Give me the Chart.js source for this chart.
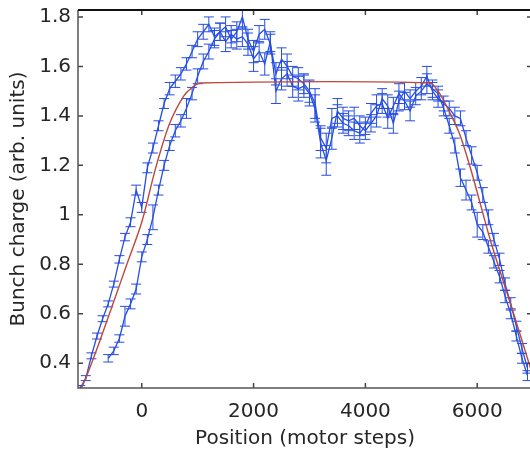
<!DOCTYPE html>
<html>
<head>
  <title>Bunch charge vs position</title>
  <style>
    html, body { margin: 0; padding: 0; overflow: hidden; background: #fff; }
    #wrap { width: 534px; height: 449px; }
  </style>
</head>
<body>
  <div id="wrap"><canvas id="canvas"></canvas></div>
  <script src="https://cdn.jsdelivr.net/npm/chart.js"></script>
  <script>
    // axis ticks
    var xTicks = [0, 2000, 4000, 6000];
    var xTickLabels = ['0', '2000', '4000', '6000'];
    var yTicks = [0.4, 0.6, 0.8, 1.0, 1.2, 1.4, 1.6, 1.8];
    var yTickLabels = ['0.4', '0.6', '0.8', '1', '1.2', '1.4', '1.6', '1.8'];

    // first scan (motor steps, charge, error)
    var scanAX = [-1100, -1000, -900, -800, -700, -600, -500, -400, -300, -200, -100, 0, 100, 200, 300, 400, 500, 600, 700, 800, 900,
      1000, 1100, 1200, 1300, 1400, 1500, 1600, 1700, 1800, 1900, 2000, 2100, 2200, 2300, 2400, 2500, 2600, 2700, 2800, 2900,
      3000, 3100, 3200, 3300, 3400, 3500, 3600, 3700, 3800, 3900, 4000, 4100, 4200, 4300, 4400, 4500, 4600, 4700, 4800, 4900,
      5000, 5100, 5200, 5300, 5400, 5500, 5600, 5700, 5800, 5900, 6000, 6100, 6200, 6300, 6400, 6500, 6600, 6700, 6800, 6900];
    var scanAY = [0.30, 0.34, 0.43, 0.51, 0.58, 0.64, 0.72, 0.82, 0.91, 0.97, 1.10, 1.03, 1.19, 1.27, 1.36, 1.45, 1.51, 1.54, 1.57, 1.61, 1.66,
      1.71, 1.74, 1.77, 1.72, 1.74, 1.76, 1.71, 1.74, 1.80, 1.71, 1.66, 1.73, 1.75, 1.69, 1.57, 1.63, 1.60, 1.56, 1.55, 1.53,
      1.50, 1.45, 1.31, 1.27, 1.39, 1.40, 1.37, 1.36, 1.34, 1.33, 1.36, 1.41, 1.44, 1.45, 1.39, 1.44, 1.49, 1.46, 1.42, 1.48,
      1.50, 1.53, 1.51, 1.49, 1.43, 1.36, 1.28, 1.15, 1.10, 1.05, 0.96, 0.93, 0.87, 0.81, 0.75, 0.67, 0.60, 0.51, 0.42, 0.35];
    var scanAErr = [0.010, 0.010, 0.012, 0.012, 0.012, 0.012, 0.012, 0.015, 0.015, 0.018, 0.02, 0.02, 0.02, 0.02, 0.02, 0.02, 0.025, 0.025, 0.025, 0.025, 0.025,
      0.03, 0.03, 0.03, 0.035, 0.035, 0.04, 0.035, 0.04, 0.045, 0.04, 0.045, 0.035, 0.04, 0.04, 0.045, 0.045, 0.05, 0.04, 0.045, 0.04,
      0.045, 0.06, 0.05, 0.06, 0.04, 0.045, 0.04, 0.04, 0.035, 0.04, 0.035, 0.04, 0.045, 0.04, 0.04, 0.035, 0.04, 0.035, 0.04, 0.035,
      0.035, 0.04, 0.035, 0.03, 0.03, 0.03, 0.03, 0.035, 0.04, 0.03, 0.05, 0.03, 0.025, 0.025, 0.025, 0.025, 0.02, 0.02, 0.02, 0.02];

    // second scan
    var scanBX = [-600, -500, -400, -300, -200, -100, 0, 100, 200, 300, 400, 500, 600, 700, 800, 900,
      1000, 1100, 1200, 1300, 1400, 1500, 1600, 1700, 1800, 1900, 2000, 2100, 2200, 2300, 2400, 2500, 2600, 2700, 2800, 2900,
      3000, 3100, 3200, 3300, 3400, 3500, 3600, 3700, 3800, 3900, 4000, 4100, 4200, 4300, 4400, 4500, 4600, 4700, 4800, 4900,
      5000, 5100, 5200, 5300, 5400, 5500, 5600, 5700, 5800, 5900, 6000, 6100, 6200, 6300, 6400, 6500, 6600, 6700, 6800, 6900];
    var scanBY = [0.42, 0.45, 0.50, 0.59, 0.64, 0.70, 0.83, 0.90, 0.99, 1.10, 1.20, 1.28, 1.34, 1.38, 1.43, 1.49,
      1.56, 1.62, 1.66, 1.71, 1.74, 1.70, 1.73, 1.71, 1.72, 1.69, 1.63, 1.66, 1.61, 1.70, 1.50, 1.55, 1.57, 1.52, 1.51, 1.52,
      1.49, 1.43, 1.29, 1.22, 1.31, 1.42, 1.39, 1.38, 1.39, 1.36, 1.34, 1.37, 1.40, 1.47, 1.44, 1.37, 1.46, 1.50, 1.47, 1.50,
      1.52, 1.56, 1.50, 1.47, 1.45, 1.43, 1.40, 1.39, 1.31, 1.24, 1.17, 1.08, 0.99, 0.90, 0.82, 0.72, 0.64, 0.55, 0.46, 0.38];
    var scanBErr = [0.015, 0.015, 0.015, 0.04, 0.02, 0.02, 0.02, 0.02, 0.05, 0.02, 0.02, 0.02, 0.025, 0.025, 0.04, 0.025,
      0.03, 0.03, 0.03, 0.035, 0.035, 0.04, 0.035, 0.04, 0.04, 0.045, 0.05, 0.04, 0.045, 0.04, 0.05, 0.045, 0.05, 0.045, 0.05, 0.045,
      0.05, 0.055, 0.06, 0.06, 0.045, 0.05, 0.045, 0.04, 0.045, 0.04, 0.035, 0.035, 0.045, 0.04, 0.045, 0.04, 0.04, 0.035, 0.035, 0.035,
      0.035, 0.04, 0.035, 0.035, 0.03, 0.03, 0.035, 0.03, 0.03, 0.035, 0.03, 0.03, 0.03, 0.025, 0.025, 0.025, 0.025, 0.02, 0.02, 0.02];

    // fitted profile
    var fitX = [-1140, -1000, -750, -500, -250, 0, 250, 500, 750, 900, 1050, 5150, 5300, 5450, 5680, 5890, 6245, 6625, 6980];
    var fitY = [0.27, 0.34, 0.49, 0.65, 0.81, 0.97, 1.19, 1.37, 1.48, 1.515, 1.533, 1.533, 1.50, 1.44, 1.33, 1.18, 0.89, 0.62, 0.36];

    function pts(xs, ys) {
      return xs.map(function (x, i) { return {x: x, y: ys[i]}; });
    }

    var blue = 'rgb(38, 78, 225)';
    var red = 'rgb(190, 72, 60)';
    var textColor = '#262626';
    var fontFamily = '"DejaVu Sans", sans-serif';

    var errorBars = {
      id: 'errorBars',
      beforeDatasetsDraw: function (chart) {
        var ctx = chart.ctx, xs = chart.scales.x, ys = chart.scales.y, a = chart.chartArea;
        var sets = [[scanAX, scanAY, scanAErr], [scanBX, scanBY, scanBErr]];
        ctx.save();
        ctx.beginPath();
        ctx.rect(a.left, a.top, a.right - a.left, a.bottom - a.top);
        ctx.clip();
        ctx.strokeStyle = blue;
        ctx.lineWidth = 1;
        sets.forEach(function (s) {
          s[0].forEach(function (x, i) {
            var px = xs.getPixelForValue(x);
            var top = ys.getPixelForValue(s[1][i] + s[2][i]);
            var bot = ys.getPixelForValue(s[1][i] - s[2][i]);
            ctx.beginPath();
            ctx.moveTo(px, top); ctx.lineTo(px, bot);
            ctx.moveTo(px - 5, top); ctx.lineTo(px + 5, top);
            ctx.moveTo(px - 5, bot); ctx.lineTo(px + 5, bot);
            ctx.stroke();
          });
        });
        ctx.restore();
      }
    };

    var frame = {
      id: 'frame',
      afterDraw: function (chart) {
        var ctx = chart.ctx, xs = chart.scales.x, ys = chart.scales.y, a = chart.chartArea;
        ctx.save();
        ctx.strokeStyle = '#444';
        ctx.lineWidth = 1.5;
        xTicks.forEach(function (v) {
          var px = xs.getPixelForValue(v);
          ctx.beginPath();
          ctx.moveTo(px, a.bottom); ctx.lineTo(px, a.bottom - 5);
          ctx.moveTo(px, a.top); ctx.lineTo(px, a.top + 5);
          ctx.stroke();
        });
        yTicks.forEach(function (v) {
          var py = ys.getPixelForValue(v);
          ctx.beginPath();
          ctx.moveTo(a.left, py); ctx.lineTo(a.left + 5, py);
          ctx.moveTo(a.right, py); ctx.lineTo(a.right - 5, py);
          ctx.stroke();
        });
        ctx.strokeStyle = '#555';
        ctx.beginPath();
        ctx.moveTo(a.left, a.top); ctx.lineTo(a.left, a.bottom); ctx.lineTo(a.right, a.bottom);
        ctx.stroke();
        ctx.strokeStyle = '#111';
        ctx.lineWidth = 2;
        ctx.beginPath();
        ctx.moveTo(a.left, a.top); ctx.lineTo(a.right, a.top);
        ctx.stroke();
        ctx.restore();
      }
    };

    var config = {
      type: 'scatter',
      data: {
        datasets: [{
          label: 'Fit',
          data: pts(fitX, fitY),
          showLine: true,
          borderColor: red,
          borderWidth: 1.4,
          pointRadius: 0,
          tension: 0.3,
          fill: false
        }, {
          label: 'Scan 1',
          data: pts(scanAX, scanAY),
          showLine: true,
          borderColor: blue,
          borderWidth: 1.3,
          pointRadius: 0,
          fill: false
        }, {
          label: 'Scan 2',
          data: pts(scanBX, scanBY),
          showLine: true,
          borderColor: blue,
          borderWidth: 1.3,
          pointRadius: 0,
          fill: false
        }]
      },
      options: {
        responsive: true,
        maintainAspectRatio: false,
        animation: false,
        layout: { padding: { top: 10, right: 2, left: 0, bottom: 0 } },
        plugins: { legend: { display: false }, tooltip: { enabled: false } },
        scales: {
          x: {
            type: 'linear',
            min: -1140,
            max: 6980,
            grid: { display: false, drawTicks: false },
            border: { display: false },
            afterBuildTicks: function (scale) {
              scale.ticks = xTicks.map(function (v) { return {value: v}; });
            },
            afterFit: function (scale) {
              scale.height = 61;
              scale.paddingLeft = 0;
              scale.paddingRight = 0;
            },
            ticks: {
              padding: 12,
              maxRotation: 0,
              color: textColor,
              font: { family: fontFamily, size: 20 },
              callback: function (v) { return xTickLabels[xTicks.indexOf(v)]; }
            },
            title: {
              display: true,
              text: 'Position (motor steps)',
              color: textColor,
              padding: { top: 0, bottom: 0 },
              font: { family: fontFamily, size: 20, lineHeight: 1 }
            }
          },
          y: {
            min: 0.3,
            max: 1.828,
            grid: { display: false, drawTicks: false },
            border: { display: false },
            afterBuildTicks: function (scale) {
              scale.ticks = yTicks.map(function (v) { return {value: v}; });
            },
            afterFit: function (scale) {
              scale.width = 78;
              scale.paddingTop = 0;
              scale.paddingBottom = 0;
            },
            ticks: {
              padding: 7,
              color: textColor,
              font: { family: fontFamily, size: 20 },
              callback: function (v) { return yTickLabels[yTicks.indexOf(v)]; }
            },
            title: {
              display: true,
              text: 'Bunch charge (arb. units)',
              color: textColor,
              padding: { top: 7, bottom: 0 },
              font: { family: fontFamily, size: 20 }
            }
          }
        }
      },
      plugins: [errorBars, frame]
    };

    window.onload = function () {
      var ctx = document.getElementById('canvas').getContext('2d');
      window.myChart = new Chart(ctx, config);
    };
  </script>
</body>
</html>
